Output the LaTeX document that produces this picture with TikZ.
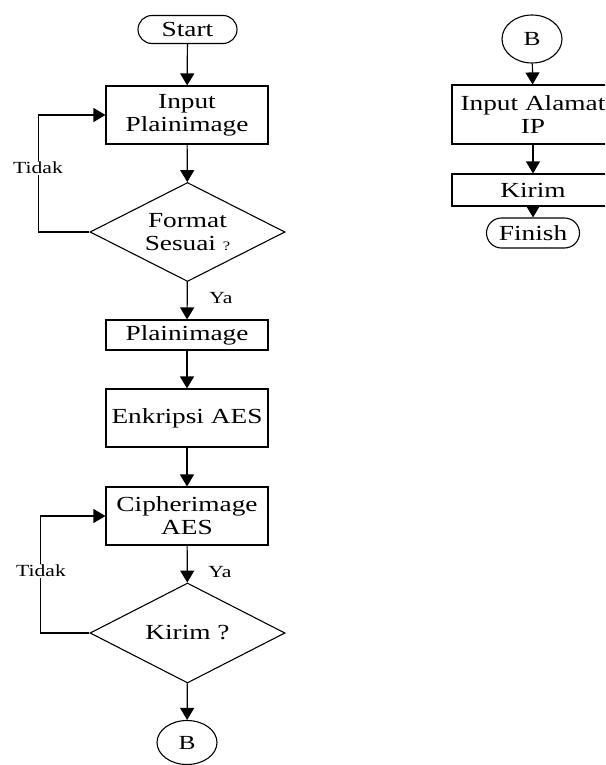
\documentclass[tikz,border=0pt]{standalone}
\usepackage{fontspec}
\setmainfont{Liberation Serif}[FakeStretch=1.27]
\usetikzlibrary{shapes.geometric,shapes.misc,arrows.meta}

\begin{document}
\begin{tikzpicture}[x=1pt,y=-1pt,
  every node/.style={inner sep=0pt, align=center, font=\fontsize{21.5}{23}\selectfont},
  proc/.style={draw, line width=1.1pt, rectangle, minimum width=162pt},
  term/.style={draw, line width=1.1pt, rounded rectangle, minimum height=28pt},
  decide/.style={draw, line width=1.1pt, diamond, aspect=2, minimum width=195pt, minimum height=99pt},
  conn/.style={draw, line width=1.1pt, ellipse, minimum width=60pt, font=\fontsize{20}{22}\selectfont},
  flow/.style={line width=1.2pt, -{Triangle[length=12pt,width=14pt]}},
  lbl/.style={fill=white, inner sep=1pt, font=\fontsize{17}{19}\selectfont}
]
\useasboundingbox (0,0) rectangle (605,765);
\begin{scope}
\clip (0,0) rectangle (605,765);

% main column
\node[term, minimum width=99pt] (start) at (187.5,29.5) {Start};
\node[proc, minimum height=58pt] (inp) at (187,115) {Input\\Plainimage};
\node[decide] (fmt) at (187.5,232) {Format\\Sesuai {\fontsize{13}{15}\selectfont ?}};
\node[proc, minimum height=30pt] (plain) at (187,335) {Plainimage};
\node[proc, minimum height=58pt] (enk) at (187,418) {Enkripsi AES};
\node[proc, minimum height=58pt] (ciph) at (187,516) {Cipherimage\\AES};
\node[decide, minimum height=100pt] (krm) at (187.5,633) {Kirim ?};
\node[conn, minimum height=44pt] (bl) at (187,742.5) {B};

\draw[flow] (start) -- (inp);
\draw[flow] (inp) -- (fmt);
\draw[flow] (fmt) -- (plain);
\draw[flow] (plain) -- (enk);
\draw[flow] (enk) -- (ciph);
\draw[flow] (ciph) -- (krm);
\draw[flow] (krm) -- (bl);

% retry loops
\draw[flow] (fmt.west) -- ++(-51,0) |- (inp.west);
\draw[flow] (krm.west) -- ++(-49,0) |- (ciph.west);

\node[lbl] (t1) at (38,168) {Tidak};
\node[lbl] (t2) at (41,571) {Tidak};
\node[lbl] (y1) at (221,298) {Ya};
\node[lbl] (y2) at (220,572) {Ya};

% second column
\node[conn, minimum height=48pt] (br) at (532,39) {B};
\node[proc, minimum height=59pt] (ip) at (533,114.5) {Input Alamat\\IP};
\node[proc, minimum height=32pt] (kr) at (533,190) {Kirim};
\node[term, minimum width=93pt, minimum height=30pt] (fin) at (533,233) {Finish};

\draw[flow] (br) -- (ip);
\draw[flow] (ip) -- (kr);
\draw[flow] (kr) -- (fin);
\end{scope}
\end{tikzpicture}
\end{document}
